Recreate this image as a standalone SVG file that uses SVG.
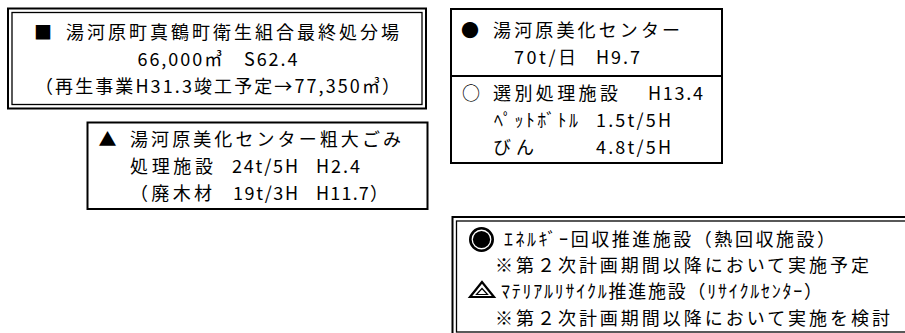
<svg xmlns="http://www.w3.org/2000/svg" width="905" height="333" viewBox="0 0 905 333">
<style>
text{font-family:"Noto Sans CJK JP","Noto Sans",sans-serif;font-size:18px;fill:#000}
.b{fill:#fff;stroke:#000;stroke-width:2}
.t{fill:none;stroke:#000;stroke-width:1.3}
.m{text-anchor:middle}
</style>
<rect width="905" height="333" fill="#fff"/>
<g id="landfill">
<rect class="b" x="8" y="8.5" width="418" height="100"/>
<rect class="t" x="12" y="12.5" width="410" height="92"/>
<text x="34" y="39">■</text>
<text x="66" y="39" textLength="333" lengthAdjust="spacing">湯河原町真鶴町衛生組合最終処分場</text>
<text class="m" x="217.5" y="66" textLength="160" lengthAdjust="spacing">66,000㎥　S62.4</text>
<text class="m" x="217.5" y="93" textLength="365" lengthAdjust="spacing">（再生事業H31.3竣工予定→77,350㎥）</text>
</g>
<g id="bulky">
<rect class="b" x="87.5" y="122.5" width="340" height="86.5"/>
<text x="98.5" y="146">▲</text>
<text x="130" y="146" textLength="271" lengthAdjust="spacing">湯河原美化センター粗大ごみ</text>
<text x="130" y="173" textLength="83" lengthAdjust="spacing">処理施設</text>
<text x="232" y="173" textLength="66" lengthAdjust="spacing">24t/5H</text>
<text x="316" y="173" textLength="44" lengthAdjust="spacing">H2.4</text>
<text x="130" y="200" textLength="82" lengthAdjust="spacing">（廃木材</text>
<text x="233" y="200" textLength="65" lengthAdjust="spacing">19t/3H</text>
<text x="316" y="200" textLength="72" lengthAdjust="spacing">H11.7）</text>
</g>
<g id="center">
<rect class="b" x="451" y="9" width="271" height="154"/>
<line x1="451" y1="76" x2="722" y2="76" stroke="#000" stroke-width="2"/>
<text x="461" y="37">●</text>
<text x="493" y="37" textLength="187" lengthAdjust="spacing">湯河原美化センター</text>
<text x="514" y="64" textLength="62" lengthAdjust="spacing">70t/日</text>
<text x="596" y="64" textLength="44" lengthAdjust="spacing">H9.7</text>
<text x="462" y="100">○</text>
<text x="493" y="100" textLength="125" lengthAdjust="spacing">選別処理施設</text>
<text x="648" y="100" textLength="55" lengthAdjust="spacing">H13.4</text>
<text x="494" y="127" textLength="84" lengthAdjust="spacing">ﾍﾟｯﾄﾎﾞﾄﾙ</text>
<text x="596" y="127" textLength="75" lengthAdjust="spacing">1.5t/5H</text>
<text x="493" y="154" textLength="41" lengthAdjust="spacing">びん</text>
<text x="596" y="154" textLength="75" lengthAdjust="spacing">4.8t/5H</text>
</g>
<g id="future">
<rect class="b" x="452.5" y="217" width="460" height="120"/>
<rect class="t" x="456.5" y="221" width="452" height="111"/>
<circle cx="481.5" cy="239.5" r="11.2" fill="#fff" stroke="#000" stroke-width="2.6"/>
<circle cx="481.5" cy="239.5" r="8.6" fill="#000"/>
<polygon points="482,282 470,297 494,297" fill="#fff" stroke="#000" stroke-width="2.2"/>
<polygon points="482,288.5 476.5,294.5 487.5,294.5" fill="none" stroke="#000" stroke-width="1.2"/>
<text x="504" y="246" textLength="331" lengthAdjust="spacing">ｴﾈﾙｷﾞｰ回収推進施設（熱回収施設）</text>
<text x="495" y="272" textLength="374" lengthAdjust="spacing">※第２次計画期間以降において実施予定</text>
<text x="501" y="298" textLength="321" lengthAdjust="spacing">ﾏﾃﾘｱﾙﾘｻｲｸﾙ推進施設（ﾘｻｲｸﾙｾﾝﾀｰ）</text>
<text x="495" y="325" textLength="395" lengthAdjust="spacing">※第２次計画期間以降において実施を検討</text>
</g>
</svg>
